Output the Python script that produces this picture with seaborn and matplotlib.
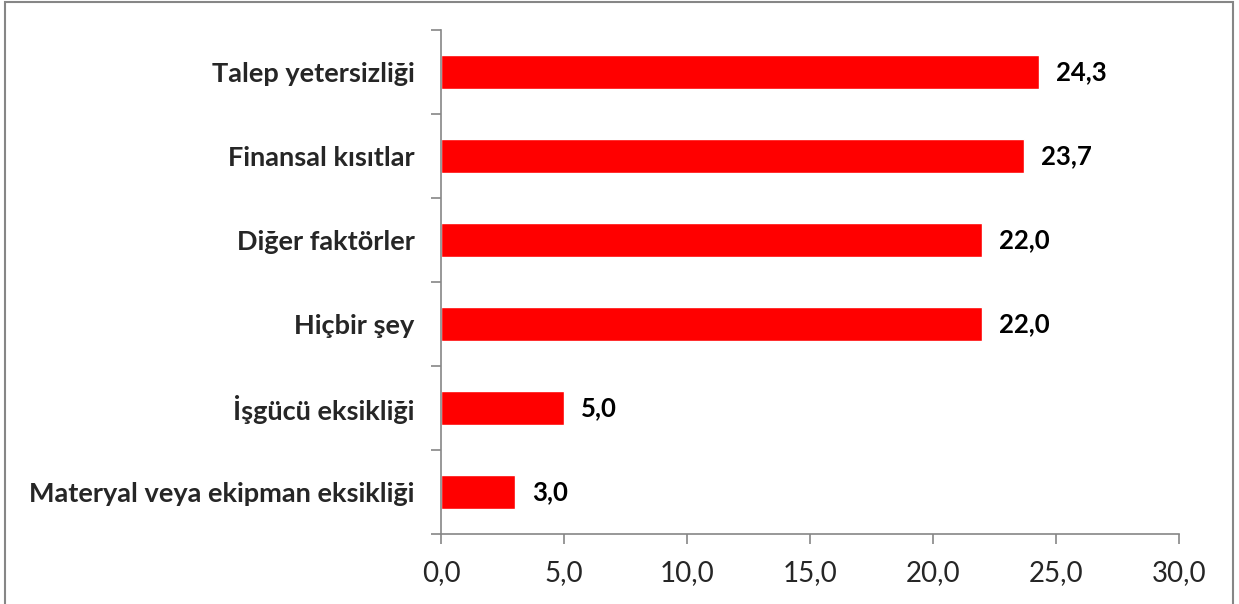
import matplotlib
matplotlib.use("Agg")
import matplotlib.pyplot as plt
import seaborn as sns
import pandas as pd
from matplotlib.patches import Rectangle
from matplotlib.ticker import FixedLocator

categories = ["Talep yetersizliği", "Finansal kısıtlar", "Diğer faktörler",
              "Hiçbir şey", "İşgücü eksikliği", "Materyal veya ekipman eksikliği"]
values = [24.3, 23.7, 22.0, 22.0, 5.0, 3.0]
x_ticks = [0, 5, 10, 15, 20, 25, 30]

sns.set_theme(style="white")
plt.rcParams['font.family'] = ['Lato', 'DejaVu Sans']

df = pd.DataFrame({"cat": categories, "val": values})

fig = plt.figure(figsize=(12.39, 6.04), dpi=100)
ax = fig.add_axes([441/1239, 1 - 534/604, (1179-441)/1239, (534-30)/604])

sns.barplot(data=df, y="cat", x="val", orient="h", color="#FF0000",
            saturation=1, width=0.4, ax=ax)

ax.set_xlim(0, 30)
ax.set_ylim(len(categories) - 0.5, -0.5)
ax.set_xticks(x_ticks)
ax.set_xticklabels([f"{t:.1f}".replace(".", ",") for t in x_ticks], fontsize=20)
ax.set_xlabel("")
ax.set_ylabel("")

ax.set_yticks(range(len(categories)))
ax.set_yticklabels(categories, fontsize=19.5, fontweight="bold")
ax.tick_params(axis="y", length=0, pad=19)
ax.yaxis.set_minor_locator(FixedLocator([i - 0.5 for i in range(len(categories) + 1)]))
ax.tick_params(axis="y", which="minor", length=7, width=1.2, color="#868686", left=True)
ax.tick_params(axis="x", length=7, width=1.2, color="#868686", bottom=True, pad=12)

for s in ["top", "right"]:
    ax.spines[s].set_visible(False)
for s in ["left", "bottom"]:
    ax.spines[s].set_color("#868686")
    ax.spines[s].set_linewidth(1.2)

for i, v in enumerate(values):
    ax.text(v + 0.7, i, f"{v:.1f}".replace(".", ","), va="center", ha="left",
            fontsize=18.5, fontweight="bold", color="black")

fig.patches.append(Rectangle((5/1239, -0.01), (1233-5)/1239, 1 - 2/604 + 0.01,
                             transform=fig.transFigure, fill=False,
                             edgecolor="#868686", linewidth=1.5))

fig.savefig("out.png", dpi=100)
